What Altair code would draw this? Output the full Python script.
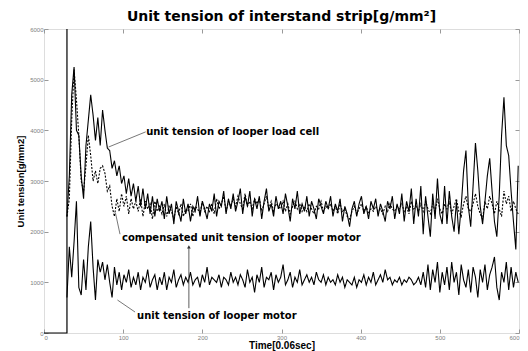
import altair as alt
import pandas as pd

# sampling grid: first sample at t=29, one sample every 3 units
T0, DT = 29, 3

load_cell = [
    2300, 3100, 4700, 5250, 4000, 3900, 3100, 2650, 3700, 4200,
    4700, 4300, 3800, 4250, 3700, 4400, 4000, 3650, 3600, 3250,
    3400, 3100, 3300, 2950, 3100, 2750, 3050, 2700, 2950, 2600,
    2900, 2500, 2850, 2450, 2750, 2350, 2700, 2300, 2650, 2400,
    2600, 2250, 2700, 2350, 2550, 2150, 2600, 2400, 2200, 2650,
    2350, 2550, 2200, 2500, 2400, 2700, 2300, 2600, 2450, 2250,
    2550, 2400, 2750, 2300, 2600, 2500, 2800, 2350, 2650, 2450,
    2750, 2400, 2600, 2850, 2350, 2700, 2500, 2800, 2300, 2650,
    2450, 2700, 2250, 2600, 2850, 2400, 2550, 2300, 2700, 2450,
    2600, 2350, 2750, 2500, 2200, 2650, 2450, 2800, 2350, 2550,
    2400, 2700, 2300, 2600, 2450, 2250, 2650, 2500, 2350, 2600,
    2450, 2700, 2300, 2550, 2400, 2650, 2200, 2500, 2350, 2100,
    2450, 2600, 2300, 2550, 2700, 2350, 2500, 2250, 2600, 2450,
    2650, 2300, 2550, 2400, 2200, 2600, 2450, 2700, 2250, 2550,
    2350, 2750, 2200, 2600, 2400, 2850, 2150, 2650, 2300, 2900,
    1950, 2700, 2300, 1900, 2750, 2250, 3050, 2350, 2150, 2900,
    2150, 2800, 2300, 2000, 2600, 1950, 2500, 3200, 3600, 2500,
    2100, 2900, 3750, 3200, 2500, 2150, 2600, 3100, 3450, 2800,
    2200, 1900, 2700, 3900, 4650, 3700, 3500, 2800, 2200, 1650, 3300,
]

compensated = [
    2300, 2650, 4200, 5200, 4600, 3900, 3000, 2800, 3300, 3900,
    3500, 3000, 3200, 2950, 3250, 3300, 3150, 2800, 2900, 2500,
    2300, 2650, 2400, 2750, 2500, 2700, 2350, 2650, 2450, 2600,
    2400, 2650, 2300, 2600, 2450, 2550, 2250, 2600, 2400, 2500,
    2350, 2550, 2300, 2500, 2400, 2250, 2500, 2350, 2550, 2300,
    2450, 2400, 2550, 2300, 2500, 2450, 2350, 2600, 2400, 2500,
    2400, 2550, 2350, 2650, 2450, 2550, 2700, 2400, 2600, 2500,
    2650, 2500, 2700, 2550, 2450, 2750, 2500, 2600, 2450, 2650,
    2550, 2650, 2400, 2550, 2700, 2450, 2600, 2400, 2550, 2500,
    2450, 2600, 2400, 2550, 2350, 2500, 2600, 2450, 2550, 2400,
    2500, 2400, 2550, 2450, 2350, 2500, 2450, 2600, 2400, 2500,
    2450, 2550, 2400, 2500, 2350, 2550, 2400, 2450, 2300, 2250,
    2400, 2500, 2350, 2450, 2550, 2400, 2500, 2350, 2450, 2400,
    2500, 2400, 2450, 2350, 2500, 2400, 2550, 2450, 2400, 2500,
    2450, 2550, 2400, 2500, 2350, 2600, 2450, 2500, 2400, 2550,
    2400, 2600, 2450, 2350, 2550, 2400, 2650, 2450, 2350, 2550,
    2450, 2600, 2350, 2500, 2650, 2400, 2300, 2550, 2700, 2450,
    2400, 2550, 2750, 2500, 2350, 2250, 2600, 2450, 2700, 2550,
    2350, 2600, 2450, 2300, 2800, 2550, 2700, 2400, 2600, 2450, 2350,
]

motor = [
    700, 1700, 1100, 1800, 2600, 900, 750, 1450, 850, 1700,
    2200, 1300, 650, 1450, 1200, 1400, 1050, 1350, 1000, 700,
    1300, 950, 1200, 850, 1150, 1000, 1250, 900, 1100, 950,
    1200, 850, 1100, 1000, 1250, 900, 1050, 1150, 850, 1100,
    950, 1200, 850, 1100, 1000, 1250, 900, 1050, 1150, 950,
    1100, 1000, 1200, 950, 1050, 1100, 900, 1150, 1000, 1300,
    950, 1100, 1050, 1000, 1150, 900, 1100, 1050, 950, 1200,
    1000, 1100, 950, 1150, 1050, 900, 1250, 1000, 1100, 800,
    1150, 1000, 1300, 900, 1100, 1050, 1200, 850, 1150, 1000,
    1100, 1350, 950, 1050, 1200, 900, 1100, 1000, 1250, 950,
    1050, 1150, 1000, 1100, 950, 1200, 1050, 1000, 1150, 950,
    1100, 1000, 1050, 950, 1150, 1000, 1100, 900, 1050, 1000,
    950, 1100, 900, 1050, 1000, 1150, 950, 1100, 1000, 1200,
    950, 1050, 1150, 1000, 1250, 1050, 1100, 950, 1050, 1000,
    1100, 950, 1050, 1000, 1100, 1050, 950, 1000, 1100, 950,
    1200, 900, 1350, 850, 1250, 1000, 1400, 800, 1200, 950,
    1300, 850, 1400, 1000, 1200, 750, 1350, 1050, 900, 1250,
    800, 1300, 1100, 700, 1250, 1000, 1350, 850, 1150, 1300,
    1500, 900, 650, 1200, 1000, 1400, 850, 1300, 900, 1200, 1000,
]

# start-up trace: zero until t=29, then a jump to the top of the scale
start_t = [0, 29, 29]
start_v = [0, 0, 6000]

x_ticks = [0, 100, 200, 300, 400, 500, 600]
y_ticks = [0, 1000, 2000, 3000, 4000, 5000, 6000]

# annotations
ann_text = ["unit tension of looper load cell",
            "compensated unit tension of looper motor",
            "unit tension of looper motor"]
ann_t = [129, 98.5, 117.5]
ann_v = [3970, 1868, 335]

lead_t1 = [128.5, 96, 115]
lead_v1 = [3970, 1950, 414]
lead_t2 = [81.5, 90.3, 92.8]
lead_v2 = [3670, 2367, 651]

arrow_t = [183]
arrow_v1 = [490]
arrow_v2 = [1700]

rows = []
for name, vals in [("load", load_cell), ("comp", compensated), ("motor", motor)]:
    for i, v in enumerate(vals):
        rows.append({"series": name, "t": T0 + DT * i, "v": v})
df = pd.DataFrame(rows)

xs = alt.Scale(domain=[0, 600], nice=False, zero=False)
ys = alt.Scale(domain=[0, 6000], nice=False)

AX = dict(domain=False, tickSize=4, offset=-4, tickColor="#999", labelColor="#808080",
          labelFont="Liberation Sans", labelFontSize=6, labelPadding=1, grid=False,
          format="d")

x_axis = alt.Axis(values=x_ticks, orient="bottom", title="Time[0.06sec]",
                  titleFont="Liberation Sans", titleFontSize=10, titleFontWeight="bold",
                  titleColor="black", titlePadding=0, **AX)
y_axis = alt.Axis(values=y_ticks, orient="left", title="Unit tension[g/mm2]",
                  titleFont="Liberation Sans", titleFontSize=9.5, titleFontWeight="bold",
                  titleColor="black", titlePadding=4, **AX)

NX = alt.X("t:Q", scale=xs, axis=None)


def NY(field):
    return alt.Y(field, scale=ys, axis=None)


lines = alt.Chart(df).mark_line(strokeWidth=1.1, color="black", clip=True).encode(
    x=alt.X("t:Q", scale=xs, axis=x_axis),
    y=alt.Y("v:Q", scale=ys, axis=y_axis),
    detail="series:N",
    strokeDash=alt.StrokeDash("series:N", legend=None,
                              scale=alt.Scale(domain=["load", "comp", "motor"],
                                              range=[[1, 0], [2, 1.5], [1, 0]])),
)

start = alt.Chart(pd.DataFrame({"t": start_t, "v": start_v, "o": [0, 1, 2]})).mark_line(
    strokeWidth=1.2, color="black").encode(x=NX, y=NY("v:Q"), order="o:Q")

ann = pd.DataFrame({"text": ann_text, "t": ann_t, "v": ann_v})
texts = alt.Chart(ann).mark_text(align="left", baseline="middle", font="DejaVu Sans",
                                 fontWeight="bold", fontSize=10, color="black").encode(
    x=NX, y=NY("v:Q"), text="text:N")

lead = pd.DataFrame({"t1": lead_t1, "v1": lead_v1, "t2": lead_t2, "v2": lead_v2})
leaders = alt.Chart(lead).mark_rule(color="#555", strokeWidth=0.8).encode(
    x=alt.X("t1:Q", scale=xs, axis=None), y=NY("v1:Q"), x2="t2:Q", y2="v2:Q")

arr = pd.DataFrame({"t": arrow_t, "v1": arrow_v1, "v2": arrow_v2})
arrow_line = alt.Chart(arr).mark_rule(color="#333", strokeWidth=0.8).encode(
    x=NX, y=NY("v1:Q"), y2="v2:Q")
arrow_head = alt.Chart(arr).mark_point(shape="triangle-up", filled=True, size=14,
                                       color="#333", opacity=1).encode(
    x=NX, y=NY("v2:Q"))

AX2 = dict(domain=False, tickSize=4, offset=-4, tickColor="#999", labels=False,
           title=None, grid=False)
mirror = alt.Chart(pd.DataFrame({"t": x_ticks, "v": y_ticks})).mark_point(opacity=0).encode(
    x=alt.X("t:Q", scale=xs, axis=alt.Axis(values=x_ticks, orient="top", **AX2)),
    y=alt.Y("v:Q", scale=ys, axis=alt.Axis(values=y_ticks, orient="right", **AX2)),
)

chart = alt.layer(lines, mirror, start, leaders, arrow_line, arrow_head, texts).resolve_axis(
    x="independent", y="independent"
).properties(
    width=475, height=304,
    title=alt.TitleParams("Unit tension of interstand strip[g/mm²]", font="DejaVu Sans",
                          fontSize=14, fontWeight="bold", color="black", offset=2,
                          anchor="middle"),
    autosize=alt.AutoSizeParams(type="none"),
    padding={"left": 36, "top": 21, "right": 1, "bottom": 22},
).configure_view(stroke="#999", strokeWidth=1).configure(background="white")

chart.save("out.html", embed_options={"renderer": "svg", "actions": False})
